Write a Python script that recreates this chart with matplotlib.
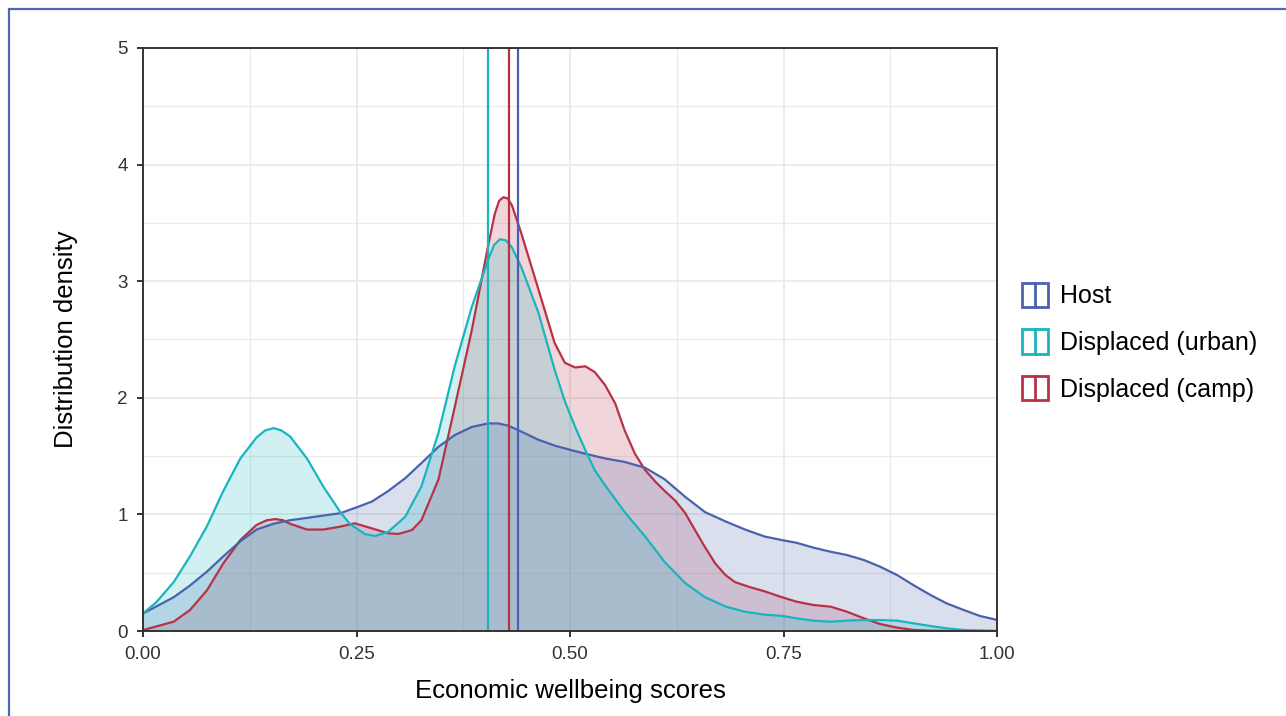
## Density of economic wellbeing scores by group
import matplotlib
matplotlib.use("Agg")
import matplotlib.pyplot as plt
from matplotlib.patches import Rectangle
from matplotlib.lines import Line2D
from matplotlib.legend_handler import HandlerBase
from matplotlib.ticker import MultipleLocator

plt.rcParams['font.family'] = ['Liberation Sans', 'DejaVu Sans']

groups = ["Host", "Displaced (urban)", "Displaced (camp)"]
colors = {"Host": "#4a62ad", "Displaced (urban)": "#19b5bf", "Displaced (camp)": "#b83246"}

# density curves
host_x = [0.0, 0.036, 0.055, 0.075, 0.094, 0.114, 0.133, 0.153, 0.172, 0.192, 0.211, 0.231,
          0.25, 0.268, 0.287, 0.307, 0.326, 0.346, 0.365, 0.385, 0.404, 0.416, 0.428,
          0.443, 0.463, 0.482, 0.502, 0.518, 0.541, 0.564, 0.588, 0.611, 0.635, 0.658,
          0.682, 0.705, 0.728, 0.748, 0.765, 0.785, 0.805, 0.824, 0.844, 0.863, 0.883,
          0.902, 0.922, 0.941, 0.961, 0.98, 1.0]
host_y = [0.15, 0.29, 0.39, 0.51, 0.64, 0.77, 0.87, 0.92, 0.95, 0.97, 0.99, 1.01,
          1.06, 1.11, 1.20, 1.31, 1.44, 1.58, 1.68, 1.75, 1.78, 1.78, 1.76,
          1.71, 1.64, 1.59, 1.55, 1.52, 1.48, 1.45, 1.40, 1.30, 1.15, 1.02,
          0.94, 0.87, 0.81, 0.78, 0.757, 0.715, 0.68, 0.652, 0.609, 0.552, 0.48,
          0.394, 0.309, 0.237, 0.18, 0.129, 0.095]

urban_x = [0.0, 0.016, 0.036, 0.055, 0.075, 0.094, 0.114, 0.133, 0.143, 0.153, 0.162,
           0.172, 0.192, 0.211, 0.231, 0.242, 0.254, 0.26, 0.272, 0.287, 0.307, 0.326,
           0.346, 0.365, 0.385, 0.404, 0.411, 0.418, 0.425, 0.432, 0.443, 0.463, 0.482,
           0.494, 0.506, 0.518, 0.529, 0.541, 0.564, 0.588, 0.611, 0.635, 0.658, 0.682,
           0.705, 0.728, 0.748, 0.765, 0.785, 0.805, 0.824, 0.844, 0.863, 0.883, 0.902,
           0.922, 0.941, 0.961, 1.0]
urban_y = [0.15, 0.25, 0.42, 0.64, 0.90, 1.20, 1.48, 1.66, 1.72, 1.74, 1.72,
           1.67, 1.48, 1.24, 1.02, 0.92, 0.86, 0.83, 0.815, 0.85, 0.98, 1.24,
           1.70, 2.27, 2.78, 3.18, 3.31, 3.36, 3.35, 3.29, 3.12, 2.73, 2.24,
           1.97, 1.75, 1.55, 1.38, 1.25, 1.02, 0.81, 0.59, 0.41, 0.29, 0.21,
           0.165, 0.14, 0.13, 0.109, 0.089, 0.08, 0.089, 0.094, 0.094, 0.089, 0.066,
           0.043, 0.023, 0.009, 0.0]

camp_x = [0.0, 0.036, 0.055, 0.075, 0.094, 0.114, 0.133, 0.145, 0.155, 0.164, 0.172,
          0.192, 0.211, 0.231, 0.248, 0.268, 0.287, 0.299, 0.315, 0.326, 0.346, 0.365,
          0.385, 0.404, 0.412, 0.417, 0.422, 0.427, 0.432, 0.443, 0.463, 0.482, 0.494,
          0.506, 0.518, 0.529, 0.541, 0.553, 0.564, 0.576, 0.588, 0.6, 0.611, 0.623,
          0.635, 0.646, 0.658, 0.67, 0.682, 0.693, 0.709, 0.728, 0.748, 0.765, 0.785,
          0.805, 0.824, 0.844, 0.863, 0.883, 0.902, 0.922, 0.95, 1.0]
camp_y = [0.008, 0.08, 0.18, 0.35, 0.58, 0.78, 0.91, 0.95, 0.96, 0.95, 0.92,
          0.87, 0.87, 0.895, 0.924, 0.88, 0.838, 0.832, 0.866, 0.95, 1.30, 1.92,
          2.58, 3.30, 3.58, 3.69, 3.72, 3.71, 3.65, 3.41, 2.93, 2.47, 2.30,
          2.26, 2.27, 2.22, 2.11, 1.95, 1.72, 1.52, 1.38, 1.28, 1.20, 1.12,
          1.01, 0.87, 0.72, 0.58, 0.48, 0.42, 0.38, 0.34, 0.29, 0.252, 0.223,
          0.209, 0.166, 0.109, 0.06, 0.029, 0.009, 0.003, 0.0, 0.0]

# group means (vertical lines)
means = {"Host": 0.439, "Displaced (urban)": 0.404, "Displaced (camp)": 0.429}

curves = {
    "Host": (host_x, host_y),
    "Displaced (urban)": (urban_x, urban_y),
    "Displaced (camp)": (camp_x, camp_y),
}


class BoxLineHandler(HandlerBase):
    def create_artists(self, legend, orig_handle, xdescent, ydescent, width, height, fontsize, trans):
        c = orig_handle.get_color()
        box = Rectangle((-xdescent, -ydescent), width, height, facecolor='white',
                        edgecolor=c, lw=2.0, transform=trans)
        mid = -xdescent + width / 2
        line = Line2D([mid, mid], [-ydescent, -ydescent + height], color=c, lw=2.0, transform=trans)
        return [box, line]


fig = plt.figure(figsize=(12.86, 7.16), dpi=100)
ax = fig.add_axes([0.1112, 0.1187, 0.6641, 0.8143])

# draw order: camp, host, urban
for g in ["Displaced (camp)", "Host", "Displaced (urban)"]:
    xs, ys = curves[g]
    ax.fill_between(xs, 0, ys, color=colors[g], alpha=0.2, lw=0)
    ax.plot(xs, ys, color=colors[g], lw=1.6, solid_joinstyle='round')

for g in ["Displaced (urban)", "Displaced (camp)", "Host"]:
    ax.axvline(means[g], color=colors[g], lw=1.6)

ax.set_xlim(0, 1)
ax.set_ylim(0, 5)
ax.xaxis.set_minor_locator(MultipleLocator(0.125))
ax.yaxis.set_major_locator(MultipleLocator(1))
ax.yaxis.set_minor_locator(MultipleLocator(0.5))
ax.set_xticks([0, 0.25, 0.5, 0.75, 1.0])
ax.set_xticklabels(["0.00", "0.25", "0.50", "0.75", "1.00"])
ax.set_axisbelow(True)
ax.grid(which='major', color='#ebebeb', lw=1.4)
ax.grid(which='minor', color='#ebebeb', lw=0.9)
ax.tick_params(which='major', length=4, width=1.4, color='#333333', labelsize=13.5,
               labelcolor='#333333', pad=7)
ax.tick_params(which='minor', length=0)
for s in ax.spines.values():
    s.set_color('#333333')
    s.set_linewidth(1.4)

ax.set_xlabel("Economic wellbeing scores", fontsize=18.5, labelpad=11)
ax.set_ylabel("Distribution density", fontsize=18.5, labelpad=28)

handles = [Line2D([], [], color=colors[g]) for g in groups]
fig.legend(handles, groups, loc='center left', bbox_to_anchor=(0.777, 0.522),
           frameon=False, fontsize=18, handler_map={Line2D: BoxLineHandler()},
           handlelength=1.04, handleheight=1.12, labelspacing=0.84, handletextpad=0.48)

# outer frame
fig.add_artist(Rectangle((9 / 1286, -0.5), 2.0, 0.5 + 1 - 9 / 716, transform=fig.transFigure,
                         fill=False, edgecolor='#4a6ab5', lw=1.6, clip_on=False))

plt.savefig("out.png", dpi=100)
